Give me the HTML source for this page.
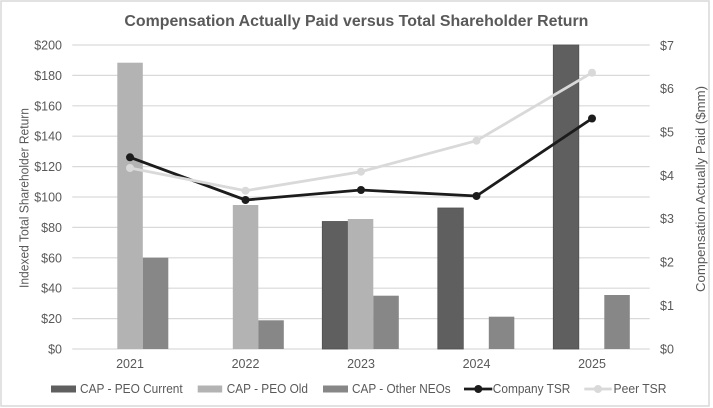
<!DOCTYPE html>
<html>
<head>
<meta charset="utf-8">
<style>
html,body{margin:0;padding:0;background:#fff;}
svg{display:block;}
text{font-family:"Liberation Sans",Arial,sans-serif;fill:#595959;}
</style>
</head>
<body>
<svg width="713" height="408" viewBox="0 0 713 408" xmlns="http://www.w3.org/2000/svg">
<rect x="0" y="0" width="713" height="408" fill="#fff"/>
<rect x="1" y="1" width="708" height="405" fill="none" stroke="#d9d9d9" stroke-width="1.5"/>

<text x="356.4" y="26" text-anchor="middle" font-size="16" font-weight="bold" textLength="464" lengthAdjust="spacingAndGlyphs">Compensation Actually Paid versus Total Shareholder Return</text>

<!-- gridlines -->
<g stroke="#d9d9d9" stroke-width="1.2">
<line x1="72.3" x2="649.7" y1="45" y2="45"/>
<line x1="72.3" x2="649.7" y1="75.4" y2="75.4"/>
<line x1="72.3" x2="649.7" y1="105.8" y2="105.8"/>
<line x1="72.3" x2="649.7" y1="136.2" y2="136.2"/>
<line x1="72.3" x2="649.7" y1="166.6" y2="166.6"/>
<line x1="72.3" x2="649.7" y1="197" y2="197"/>
<line x1="72.3" x2="649.7" y1="227.4" y2="227.4"/>
<line x1="72.3" x2="649.7" y1="257.8" y2="257.8"/>
<line x1="72.3" x2="649.7" y1="288.2" y2="288.2"/>
<line x1="72.3" x2="649.7" y1="318.6" y2="318.6"/>
<line x1="72.3" x2="649.7" y1="349" y2="349"/>
</g>

<!-- left tick labels -->
<g font-size="12.5" text-anchor="end">
<text x="62" y="49.5">$200</text>
<text x="62" y="79.9">$180</text>
<text x="62" y="110.3">$160</text>
<text x="62" y="140.7">$140</text>
<text x="62" y="171.1">$120</text>
<text x="62" y="201.5">$100</text>
<text x="62" y="231.9">$80</text>
<text x="62" y="262.3">$60</text>
<text x="62" y="292.7">$40</text>
<text x="62" y="323.1">$20</text>
<text x="62" y="353.5">$0</text>
</g>

<!-- right tick labels -->
<g font-size="12.5" text-anchor="start">
<text x="660" y="50">$7</text>
<text x="660" y="93">$6</text>
<text x="660" y="136.4">$5</text>
<text x="660" y="179.8">$4</text>
<text x="660" y="223.2">$3</text>
<text x="660" y="266.6">$2</text>
<text x="660" y="310">$1</text>
<text x="660" y="353.5">$0</text>
</g>

<!-- axis titles -->
<text transform="translate(28.5,198) rotate(-90)" text-anchor="middle" font-size="12.5" textLength="180" lengthAdjust="spacingAndGlyphs">Indexed Total Shareholder Return</text>
<text transform="translate(705,189) rotate(-90)" text-anchor="middle" font-size="12.5" textLength="206" lengthAdjust="spacingAndGlyphs">Compensation Actually Paid ($mm)</text>

<!-- bars -->
<!-- 2021 -->
<rect x="117.3" y="62.7" width="25.5" height="286.3" fill="#b3b3b3"/>
<rect x="142.8" y="257.7" width="25.5" height="91.3" fill="#878787"/>
<!-- 2022 -->
<rect x="232.8" y="205" width="25.5" height="144" fill="#b3b3b3"/>
<rect x="258.3" y="320.3" width="25.5" height="28.7" fill="#878787"/>
<!-- 2023 -->
<rect x="322.3" y="221.5" width="25.5" height="127.5" fill="#5f5f5f" stroke="#505050" stroke-width="0.8"/>
<rect x="347.8" y="219" width="25.5" height="130" fill="#b3b3b3"/>
<rect x="373.3" y="295.7" width="25.5" height="53.3" fill="#878787"/>
<!-- 2024 -->
<rect x="437.8" y="208" width="25.5" height="141" fill="#5f5f5f" stroke="#505050" stroke-width="0.8"/>
<rect x="488.8" y="316.7" width="25.5" height="32.3" fill="#878787"/>
<!-- 2025 -->
<rect x="553.3" y="45" width="25.5" height="304" fill="#5f5f5f" stroke="#505050" stroke-width="0.8"/>
<rect x="604.3" y="295" width="25.5" height="54" fill="#878787"/>

<!-- category labels -->
<g font-size="12.5" text-anchor="middle">
<text x="130" y="367.8">2021</text>
<text x="245.5" y="367.8">2022</text>
<text x="361" y="367.8">2023</text>
<text x="476.5" y="367.8">2024</text>
<text x="592" y="367.8">2025</text>
</g>

<!-- Company TSR -->
<polyline points="130,157.3 245.5,200 361,190 476.5,196 592,118.5" fill="none" stroke="#1c1c1c" stroke-width="2.8" stroke-linejoin="round"/>
<g fill="#1c1c1c">
<circle cx="130" cy="157.3" r="4"/>
<circle cx="245.5" cy="200" r="4"/>
<circle cx="361" cy="190" r="4"/>
<circle cx="476.5" cy="196" r="4"/>
<circle cx="592" cy="118.5" r="4"/>
</g>

<!-- Peer TSR -->
<polyline points="130,168 245.5,190.7 361,171.7 476.5,140.7 592,72.7" fill="none" stroke="#d9d9d9" stroke-width="2.8" stroke-linejoin="round"/>
<g fill="#d9d9d9">
<circle cx="130" cy="168" r="4"/>
<circle cx="245.5" cy="190.7" r="4"/>
<circle cx="361" cy="171.7" r="4"/>
<circle cx="476.5" cy="140.7" r="4"/>
<circle cx="592" cy="72.7" r="4"/>
</g>

<!-- legend -->
<rect x="51" y="385.5" width="25" height="7" fill="#5f5f5f"/>
<text x="80" y="393" font-size="12.5" textLength="102.7" lengthAdjust="spacingAndGlyphs">CAP - PEO Current</text>
<rect x="197.7" y="385.5" width="24.5" height="7" fill="#b3b3b3"/>
<text x="226.7" y="393" font-size="12.5" textLength="81.3" lengthAdjust="spacingAndGlyphs">CAP - PEO Old</text>
<rect x="323" y="385.5" width="25" height="7" fill="#878787"/>
<text x="352" y="393" font-size="12.5" textLength="98.7" lengthAdjust="spacingAndGlyphs">CAP - Other NEOs</text>
<line x1="464" y1="389" x2="492.3" y2="389" stroke="#1c1c1c" stroke-width="2.8"/>
<circle cx="478.3" cy="389" r="4" fill="#1c1c1c"/>
<text x="492.8" y="393" font-size="12.5" textLength="77.5" lengthAdjust="spacingAndGlyphs">Company TSR</text>
<line x1="584.3" y1="389" x2="611.7" y2="389" stroke="#d9d9d9" stroke-width="2.8"/>
<circle cx="598" cy="389" r="4" fill="#d9d9d9"/>
<text x="613.5" y="393" font-size="12.5" textLength="53" lengthAdjust="spacingAndGlyphs">Peer TSR</text>
</svg>
</body>
</html>
